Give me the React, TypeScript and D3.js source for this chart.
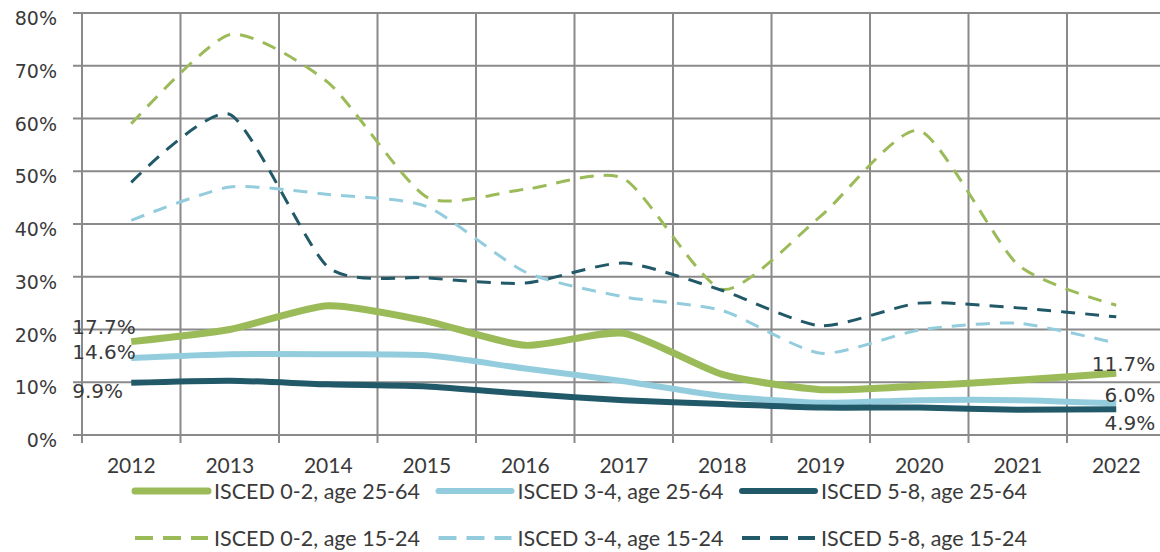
import React from "react";
import * as d3 from "d3";

// values (percent)
const years = ["2012", "2013", "2014", "2015", "2016", "2017", "2018", "2019", "2020", "2021", "2022"];
const isced02Age2564 = [17.7, 20.0, 24.5, 21.6, 17.0, 19.3, 11.5, 8.6, 9.3, 10.4, 11.7];
const isced34Age2564 = [14.6, 15.3, 15.3, 15.1, 12.6, 10.2, 7.4, 6.1, 6.6, 6.6, 6.0];
const isced58Age2564 = [9.9, 10.3, 9.6, 9.2, 7.8, 6.6, 5.9, 5.2, 5.2, 4.8, 4.9];
const isced02Age1524 = [59.0, 75.9, 66.8, 45.1, 46.6, 48.6, 27.6, 41.5, 57.7, 32.3, 24.6];
const isced34Age1524 = [40.7, 47.0, 45.6, 43.3, 30.9, 26.2, 23.6, 15.5, 19.9, 21.2, 17.4];
const isced58Age1524 = [47.9, 60.8, 31.8, 29.8, 28.8, 32.6, 27.4, 20.7, 25.0, 24.1, 22.4];
const yTicks = [0, 10, 20, 30, 40, 50, 60, 70, 80];

const GREEN = "#9bbb59";
const LIGHT = "#93cddd";
const DARK = "#215968";

const series = [
  { name: "ISCED 0-2, age 25-64", values: isced02Age2564, color: GREEN, dashed: false, width: 7, first: -15, last: -9 },
  { name: "ISCED 3-4, age 25-64", values: isced34Age2564, color: LIGHT, dashed: false, width: 6, first: -6, last: -8 },
  { name: "ISCED 5-8, age 25-64", values: isced58Age2564, color: DARK, dashed: false, width: 6, first: 8, last: 14 },
  { name: "ISCED 0-2, age 15-24", values: isced02Age1524, color: GREEN, dashed: true, width: 3 },
  { name: "ISCED 3-4, age 15-24", values: isced34Age1524, color: LIGHT, dashed: true, width: 3 },
  { name: "ISCED 5-8, age 15-24", values: isced58Age1524, color: DARK, dashed: true, width: 3 },
];

const W = 1160, H = 552;
const left = 82, top = 13, bottom = 435, right = 82 + 98.5 * 11;
const GRID = "#8a8a8a";
const TEXT = "#3a3a3a";

export default function App() {
  const x = d3.scaleBand().domain(years).range([left, right]);
  const cx = (y: string) => x(y)! + x.bandwidth() / 2;
  const y = d3.scaleLinear().domain([0, 80]).range([bottom, top]);

  const line = d3.line<number>()
    .x((_, i) => cx(years[i]))
    .y(d => y(d))
    .curve(d3.curveCardinal.tension(0.35));

  const gridX = d3.range(years.length + 1).map(i => left + i * x.bandwidth());
  const drawOrder = [3, 4, 5, 0, 1, 2];

  return (
    <svg width={W} height={H} style={{ position: "absolute", left: 0, top: 0, background: "#fff" }}>
      {/* grid */}
      {yTicks.map(t => (
        <line key={"h" + t} x1={73} x2={W} y1={y(t)} y2={y(t)} stroke={GRID} strokeWidth={2} />
      ))}
      {gridX.map((gx, i) => (
        <line key={"v" + i} x1={gx} x2={gx} y1={top} y2={443} stroke={GRID} strokeWidth={2} />
      ))}
      {yTicks.map(t => (
        <text key={"yl" + t} x={57} y={y(t) + 5} textAnchor="end" dominantBaseline="central"
          fontFamily="DejaVu Sans" fontSize={19} fill={TEXT}>{t}%</text>
      ))}
      {years.map(yr => (
        <text key={yr} x={cx(yr)} y={473} textAnchor="middle" fontFamily="Lato" fontSize={21} fill={TEXT}>{yr}</text>
      ))}

      {drawOrder.map(i => {
        const s = series[i];
        return (
          <path key={s.name} d={line(s.values)!} fill="none" stroke={s.color} strokeWidth={s.width}
            strokeDasharray={s.dashed ? "14 10" : undefined} strokeLinecap="butt" strokeLinejoin="round" />
        );
      })}

      {/* data labels at the ends of the solid lines */}
      {series.filter(s => !s.dashed).map(s => (
        <g key={"lab" + s.name} fontFamily="DejaVu Sans" fontSize={20} fill={TEXT}>
          <text x={cx(years[0]) - 59} y={y(s.values[0]) + (s.first ?? 0)} dominantBaseline="central">
            {d3.format(".1f")(s.values[0])}%
          </text>
          <text x={cx(years[years.length - 1]) + 39} y={y(s.values[s.values.length - 1]) + (s.last ?? 0)}
            textAnchor="end" dominantBaseline="central">
            {d3.format(".1f")(s.values[s.values.length - 1])}%
          </text>
        </g>
      ))}

      {/* legend */}
      {series.map((s, i) => {
        const col = i % 3, row = Math.floor(i / 3);
        const lx = 135 + col * 303.5;
        const ly = 491 + row * 47;
        return (
          <g key={"lg" + s.name}>
            <line x1={lx} x2={lx + 73} y1={ly} y2={ly} stroke={s.color}
              strokeWidth={s.dashed ? 4 : s.width} strokeDasharray={s.dashed ? "18 10" : undefined}
              strokeLinecap={s.dashed ? "butt" : "round"} />
            <text x={lx + 79} y={ly + 8} fontFamily="Lato" fontSize={21.5} fill={TEXT}>{s.name}</text>
          </g>
        );
      })}
    </svg>
  );
}
